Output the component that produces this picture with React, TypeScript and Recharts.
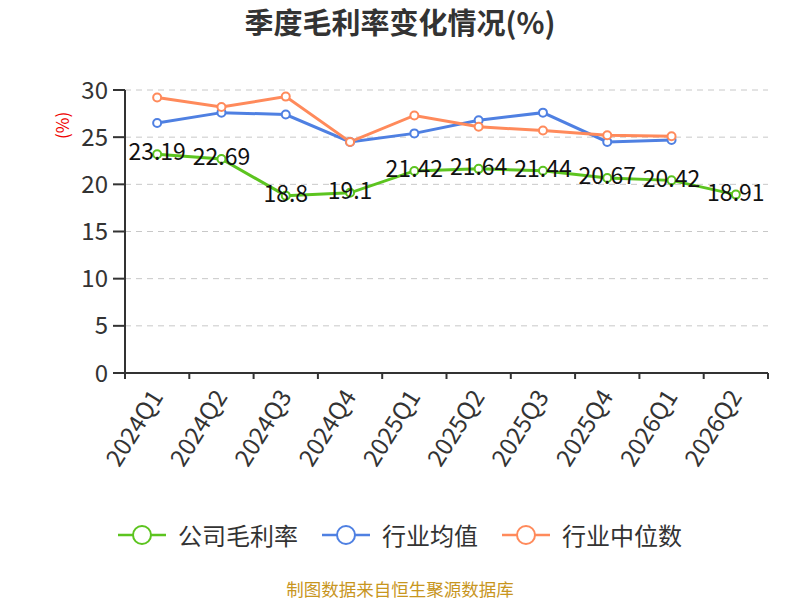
import React from 'react';
import { LineChart, Line, XAxis, YAxis, CartesianGrid, LabelList } from 'recharts';

const quarters = ['2024Q1', '2024Q2', '2024Q3', '2024Q4', '2025Q1', '2025Q2', '2025Q3', '2025Q4', '2026Q1', '2026Q2'];
const companyMargin = [23.19, 22.69, 18.8, 19.1, 21.42, 21.64, 21.44, 20.67, 20.42, 18.91];
const industryAvg = [26.5, 27.6, 27.4, 24.5, 25.4, 26.8, 27.6, 24.5, 24.7, null];
const industryMedian = [29.2, 28.2, 29.3, 24.5, 27.3, 26.1, 25.7, 25.2, 25.1, null];
const yTicks = [0, 5, 10, 15, 20, 25, 30];

const seriesNames = ['公司毛利率', '行业均值', '行业中位数'];
const colors = ['#5cc41f', '#4f80e2', '#ff8a5b'];

const data = quarters.map((q, i) => ({
  q,
  company: companyMargin[i],
  avg: industryAvg[i],
  median: industryMedian[i],
}));

const FONT = '"Noto Sans CJK SC", "Noto Sans", sans-serif';
const PLOT_LEFT = 125;
const PLOT_RIGHT = 768;
const BAND = (PLOT_RIGHT - PLOT_LEFT) / quarters.length;

function QuarterTick(props: any) {
  const { x, y, payload, index } = props;
  const half = BAND / 2;
  const tx = x - 2;
  const ty = y + 10;
  return (
    <g>
      <line x1={x - half} x2={x - half} y1={y - 8} y2={y - 2} stroke="#333" strokeWidth={2} />
      {index === quarters.length - 1 && (
        <line x1={x + half} x2={x + half} y1={y - 8} y2={y - 2} stroke="#333" strokeWidth={2} />
      )}
      <text
        x={tx}
        y={ty}
        transform={`rotate(-58 ${tx} ${ty})`}
        textAnchor="end"
        dominantBaseline="central"
        fill="#333"
        fontSize={24}
        fontFamily={FONT}
      >
        {payload.value}
      </text>
    </g>
  );
}

function LegendIcon({ color }: { color: string }) {
  return (
    <svg width={48} height={24} style={{ verticalAlign: 'middle' }}>
      <line x1={0} x2={48} y1={12} y2={12} stroke={color} strokeWidth={2.5} />
      <circle cx={24} cy={12} r={9} fill="#fff" stroke={color} strokeWidth={2} />
    </svg>
  );
}

export default function App() {
  return (
    <div style={{ position: 'absolute', left: 0, top: 0, width: 800, height: 600, background: '#fff', fontFamily: FONT }}>
      <div style={{ position: 'absolute', top: 0, width: 800, textAlign: 'center', fontSize: 29, fontWeight: 'bold', color: '#333' }}>
        季度毛利率变化情况(%)
      </div>
      <LineChart width={800} height={600} data={data} margin={{ top: 90, right: 32, bottom: 127, left: 0 }}>
        <CartesianGrid vertical={false} stroke="#c8c8c8" strokeDasharray="6 5" />
        <XAxis
          dataKey="q"
          scale="band"
          height={100}
          interval={0}
          tickLine={false}
          axisLine={{ stroke: '#333', strokeWidth: 2 }}
          tick={<QuarterTick />}
        />
        <YAxis
          width={125}
          domain={[0, 30]}
          ticks={yTicks}
          axisLine={{ stroke: '#333', strokeWidth: 2 }}
          tickLine={{ stroke: '#333', strokeWidth: 2 }}
          tickSize={12}
          tickMargin={5}
          tick={{ fill: '#333', fontSize: 24, fontFamily: FONT }}
          label={{ value: '(%)', angle: -90, position: 'insideTopLeft', dx: 52, dy: 44, fill: '#e00', fontSize: 17, fontFamily: FONT }}
        />
        <Line
          dataKey="avg"
          stroke={colors[1]}
          strokeWidth={3}
          dot={{ r: 4, fill: '#fff', stroke: colors[1], strokeWidth: 2 }}
          isAnimationActive={false}
        />
        <Line
          dataKey="median"
          stroke={colors[2]}
          strokeWidth={3}
          dot={{ r: 4, fill: '#fff', stroke: colors[2], strokeWidth: 2 }}
          isAnimationActive={false}
        />
        <Line
          dataKey="company"
          stroke={colors[0]}
          strokeWidth={3}
          dot={{ r: 4, fill: '#fff', stroke: colors[0], strokeWidth: 2 }}
          isAnimationActive={false}
        >
          <LabelList dataKey="company" position="center" dy={-2} fill="#111" fontSize={23} fontFamily={FONT} />
        </Line>
      </LineChart>
      <div style={{ position: 'absolute', top: 517, left: 0, width: 800, display: 'flex', justifyContent: 'center', gap: 24, fontSize: 24, color: '#333' }}>
        {seriesNames.map((name, i) => (
          <span key={name} style={{ display: 'flex', alignItems: 'center', gap: 12 }}>
            <LegendIcon color={colors[i]} />
            {name}
          </span>
        ))}
      </div>
      <div style={{ position: 'absolute', top: 576, width: 800, textAlign: 'center', fontSize: 17.5, color: '#c8961e' }}>
        制图数据来自恒生聚源数据库
      </div>
    </div>
  );
}
